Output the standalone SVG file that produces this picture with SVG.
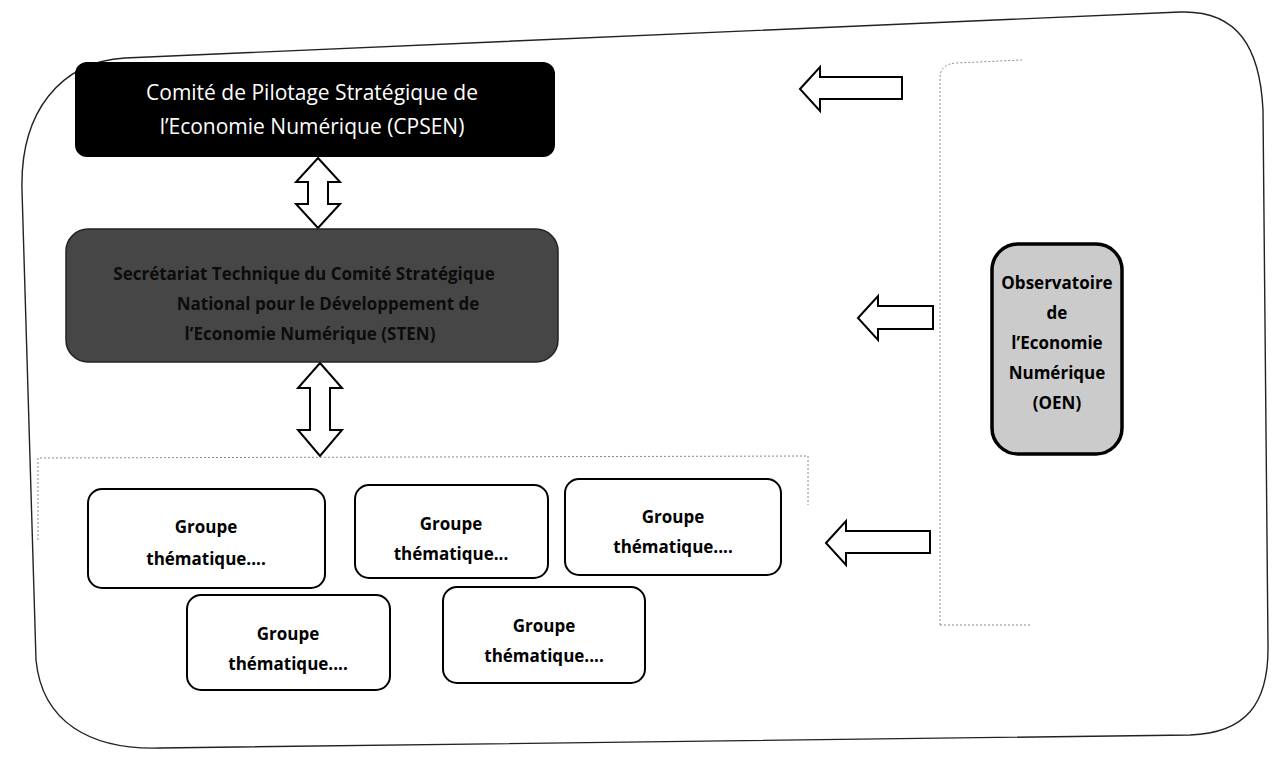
<svg xmlns="http://www.w3.org/2000/svg" width="1286" height="768" viewBox="0 0 1286 768">
<defs>
<style>
.frame{fill:none;stroke:#222;stroke-width:1.4}
.dot{fill:none;stroke:#888;stroke-width:1;stroke-dasharray:2 2}
.blk{fill:#000}
.mid{fill:#464646;stroke:#222;stroke-width:1.5}
.grp{fill:#fff;stroke:#000;stroke-width:2}
.oen{fill:#cbcbcb;stroke:#000;stroke-width:3.5}
.arr{fill:#fff;stroke:#000;stroke-width:2;stroke-linejoin:miter}
.t{font-family:"Open Sans",Lato,"Liberation Sans",sans-serif;text-anchor:middle}
.tw{fill:#fff;font-size:21px}
.tm{fill:#0c0c0c;font-size:17px;font-weight:bold}
.tg{fill:#000;font-size:17px;font-weight:bold}
.to{fill:#000;font-size:17px;font-weight:bold}
</style>
</defs>
<rect width="1286" height="768" fill="#fff"/>
<path class="frame" d="M125,58 L1180,12 C1238,10 1260,48 1263,110 L1268,645 C1269,705 1245,733 1190,735 L160,748 C90,750 42,722 36,660 L22,190 C20,112 60,62 125,58 Z"/>
<g id="dotted-frames">
<path class="dot" d="M940,625 L940,78 Q940,64 956,63 L1022,60"/>
<path class="dot" d="M940,625 L1032,625"/>
<path class="dot" d="M38,540 L38,458 L808,456 L808,505"/>
</g>
<g id="connectors">
<path class="arr" d="M318,158 L340,182 L328,182 L328,204 L340,204 L318,228 L296,204 L308,204 L308,182 L296,182 Z"/>
<path class="arr" d="M320,363 L342,388 L330,388 L330,430 L342,430 L320,456 L298,430 L310,430 L310,388 L298,388 Z"/>
<path class="arr" d="M800,89 L820,67 L820,77 L902,77 L902,99 L820,99 L820,111 Z"/>
<path class="arr" d="M858,318 L878,296 L878,306 L933,306 L933,329 L878,329 L878,340 Z"/>
<path class="arr" d="M826,543 L846,521 L846,531 L930,531 L930,553 L846,553 L846,565 Z"/>
</g>
<g id="cpsen">
<rect class="blk" x="75" y="62" width="480" height="95" rx="12"/>
<text class="t tw" x="312" y="100">Comité de Pilotage Stratégique de</text>
<text class="t tw" x="312" y="134">l’Economie Numérique (CPSEN)</text>
</g>
<g id="secretariat">
<rect class="mid" x="66" y="229" width="492" height="133" rx="22"/>
<text class="t tm" x="304" y="280">Secrétariat Technique du Comité Stratégique</text>
<text class="t tm" x="328" y="310">National pour le Développement de</text>
<text class="t tm" x="310" y="340">l’Economie Numérique (STEN)</text>
</g>
<g id="oen">
<rect class="oen" x="992" y="244" width="130" height="210" rx="26"/>
<text class="t to" x="1057" y="289">Observatoire</text>
<text class="t to" x="1057" y="319">de</text>
<text class="t to" x="1057" y="349">l’Economie</text>
<text class="t to" x="1057" y="379">Numérique</text>
<text class="t to" x="1057" y="409">(OEN)</text>
</g>
<g id="groupe1">
<rect class="grp" x="88" y="489" width="237" height="99" rx="14"/>
<text class="t tg" x="206" y="533">Groupe</text>
<text class="t tg" x="206" y="565">thématique....</text>
</g>
<g id="groupe2">
<rect class="grp" x="355" y="485" width="193" height="93" rx="14"/>
<text class="t tg" x="451" y="530">Groupe</text>
<text class="t tg" x="451" y="560">thématique...</text>
</g>
<g id="groupe3">
<rect class="grp" x="565" y="479" width="216" height="96" rx="14"/>
<text class="t tg" x="673" y="523">Groupe</text>
<text class="t tg" x="673" y="553">thématique....</text>
</g>
<g id="groupe4">
<rect class="grp" x="187" y="595" width="203" height="95" rx="14"/>
<text class="t tg" x="288" y="640">Groupe</text>
<text class="t tg" x="288" y="670">thématique....</text>
</g>
<g id="groupe5">
<rect class="grp" x="443" y="587" width="202" height="96" rx="14"/>
<text class="t tg" x="544" y="632">Groupe</text>
<text class="t tg" x="544" y="662">thématique....</text>
</g>
</svg>
